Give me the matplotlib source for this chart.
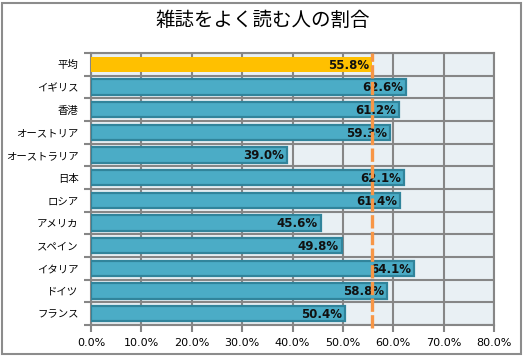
import matplotlib
matplotlib.use('Agg')
import matplotlib.pyplot as plt
from matplotlib.patches import Rectangle
from matplotlib.ticker import FixedLocator, MultipleLocator, FuncFormatter

plt.rcParams['font.family'] = ['Noto Sans CJK JP', 'DejaVu Sans']

# ── Data ────────────────────────────────────────────────────────────────
TITLE      = '雑誌をよく読む人の割合'
categories = ['平均', 'イギリス', '香港', 'オーストリア', 'オーストラリア', '日本',
              'ロシア', 'アメリカ', 'スペイン', 'イタリア', 'ドイツ', 'フランス']
values     = [55.8, 62.6, 61.2, 59.3, 39.0, 62.1, 61.4, 45.6, 49.8, 64.1, 58.8, 50.4]
average    = values[0]
# ────────────────────────────────────────────────────────────────────────

GRID_C = '#868686'
BAR_C  = '#4BACC6'
EDGE_C = '#31849B'
AVG_C  = '#FFC000'

fig = plt.figure(figsize=(5.25, 3.57), dpi=100)
ax = fig.add_axes([91 / 525, 32 / 357, 403 / 525, 272 / 357])
ax.set_facecolor('#E9F0F4')

n = len(categories)
ypos = list(range(n))[::-1]
colors = [AVG_C] + [BAR_C] * (n - 1)
edges = ['none'] + [EDGE_C] * (n - 1)
ax.barh(ypos, values, height=0.68, color=colors, edgecolor=edges,
        linewidth=1.6, zorder=3)

for y, v in zip(ypos, values):
    ax.text(v - 0.6, y - 0.03, f'{v:.1f}%', ha='right', va='center',
            fontsize=8.5, fontweight='bold', family='DejaVu Sans',
            color='#111111', zorder=4)

ax.axvline(average, color='#F79646', linewidth=2.4, dashes=(4, 1),
           ymin=-0.01, ymax=1.0, clip_on=False, zorder=5)

ax.set_xlim(0, 80)
ax.set_ylim(-0.5, n - 0.5)
ax.xaxis.set_major_locator(MultipleLocator(10))
ax.xaxis.set_major_formatter(FuncFormatter(lambda x, _: f'{x:.1f}%'))
ax.set_yticks(ypos)
ax.set_yticklabels(categories)
ax.yaxis.set_minor_locator(FixedLocator([i + 0.5 for i in range(-1, n)]))

ax.grid(axis='x', which='major', color=GRID_C, linewidth=1.5, zorder=1)
ax.grid(axis='y', which='minor', color=GRID_C, linewidth=1.5, zorder=1)
ax.tick_params(axis='y', which='major', length=0, pad=9, labelsize=7.5)
ax.tick_params(axis='y', which='minor', length=5, width=1.5, color=GRID_C)
ax.tick_params(axis='x', which='major', length=5, width=1.5, color=GRID_C,
               labelsize=8, pad=4)
for lab in ax.get_xticklabels():
    lab.set_family('DejaVu Sans')
for sp in ax.spines.values():
    sp.set_color(GRID_C)
    sp.set_linewidth(1.5)

fig.text(0.5, 1 - 20 / 357, TITLE, ha='center', va='center', fontsize=14)

fig.patches.append(Rectangle((2 / 525, 3 / 357), 519 / 525, 351 / 357,
                             transform=fig.transFigure, fill=False,
                             edgecolor='#8C8C8C', linewidth=1.5))

fig.savefig('out.png', dpi=100)
